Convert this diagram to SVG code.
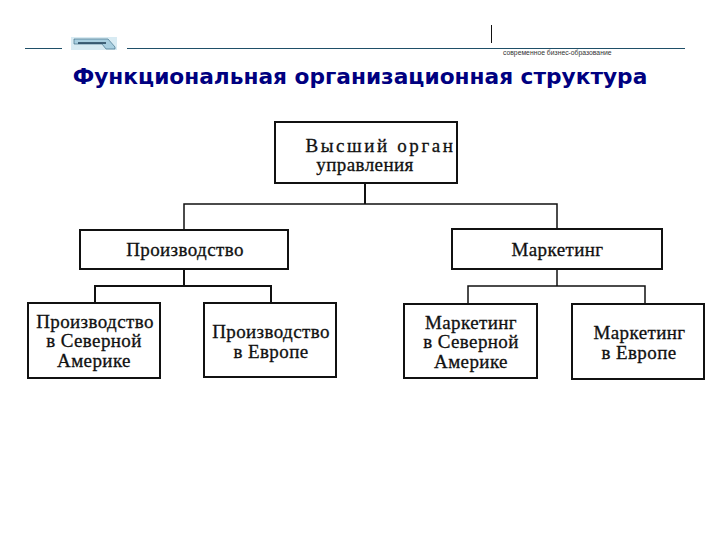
<svg xmlns="http://www.w3.org/2000/svg" width="720" height="540" viewBox="0 0 720 540">
<style>
.box{fill:#fff;stroke:#111;stroke-width:2}
.lbl{font-family:"Liberation Serif",serif;font-size:19px;letter-spacing:.4px;fill:#111;text-anchor:middle;stroke:#111;stroke-width:.3}
.con{fill:none;stroke:#111;stroke-width:2}
.thin{fill:none;stroke:#111;stroke-width:1.5}
</style>
<rect width="720" height="540" fill="#fff"/>
<g id="header">
<path d="M25 48.5H62M127 48.5H685" stroke="#1f4f68" stroke-width="1" fill="none"/>
<path d="M491.5 25V43" stroke="#111" stroke-width="1"/>
<rect x="71" y="37" width="46" height="13" fill="#d8ebf3"/>
<path d="M74 39H108L115 47V49H106L102 44H74Z" fill="#a9cfe0" stroke="#2f5f78" stroke-width=".6"/>
<path d="M78 43H106" stroke="#1d3c55" stroke-width="1.5"/>
<text x="503" y="55" font-family="'Liberation Sans',sans-serif" font-size="6.8px" fill="#333">современное бизнес-образование</text>
<text x="360" y="84" text-anchor="middle" font-family="'DejaVu Sans',sans-serif" font-weight="700" font-size="21.7px" fill="#000080">Функциональная организационная структура</text>
</g>
<g id="connectors">
<path class="con" d="M365 183V204"/>
<path class="thin" d="M184 230V204H557V230"/>
<path class="con" d="M184 269V286"/>
<path class="con" d="M95 303V286H271V303"/>
<path class="thin" d="M557 269V286"/>
<path class="thin" d="M468 304V286H645V304"/>
</g>
<g id="node-top"><rect class="box" x="275" y="122" width="182" height="61"/><text class="lbl" x="380.500" y="152" style="font-size:19px;letter-spacing:2.6px">Высший орган</text><text class="lbl" x="365" y="171">управления</text></g>
<g id="node-production"><rect class="box" x="80" y="230" width="208" height="39"/><text class="lbl" x="185" y="256">Производство</text></g>
<g id="node-marketing"><rect class="box" x="452" y="229" width="210" height="40"/><text class="lbl" x="557.500" y="256">Маркетинг</text></g>
<g id="node-prod-na"><rect class="box" x="28" y="303" width="132" height="75"/><text class="lbl" x="95" y="328">Производство</text><text class="lbl" x="94" y="347">в Северной</text><text class="lbl" x="94" y="367">Америке</text></g>
<g id="node-prod-eu"><rect class="box" x="204" y="303" width="132" height="74"/><text class="lbl" x="271" y="338">Производство</text><text class="lbl" x="271" y="358">в Европе</text></g>
<g id="node-mkt-na"><rect class="box" x="404" y="304" width="133" height="74"/><text class="lbl" x="471" y="329">Маркетинг</text><text class="lbl" x="471" y="348">в Северной</text><text class="lbl" x="471" y="368">Америке</text></g>
<g id="node-mkt-eu"><rect class="box" x="572" y="304" width="132" height="75"/><text class="lbl" x="639.500" y="339">Маркетинг</text><text class="lbl" x="639" y="359">в Европе</text></g>
</svg>
